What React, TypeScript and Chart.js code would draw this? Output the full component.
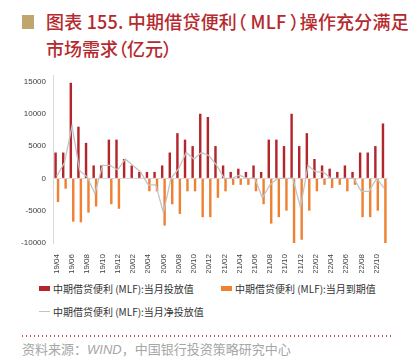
import React, { useEffect, useRef } from "react";
import { Chart, registerables } from "chart.js";
Chart.register(...registerables);

const categories = [
  "19/04", "19/05", "19/06", "19/07", "19/08", "19/09", "19/10", "19/11", "19/12",
  "20/01", "20/02", "20/03", "20/04", "20/05", "20/06", "20/07", "20/08", "20/09", "20/10", "20/11", "20/12",
  "21/01", "21/02", "21/03", "21/04", "21/05", "21/06", "21/07", "21/08", "21/09", "21/10", "21/11", "21/12",
  "22/01", "22/02", "22/03", "22/04", "22/05", "22/06", "22/07", "22/08", "22/09", "22/10", "22/11",
];

const issued = [
  4000, 4000, 14800, 8000, 5500, 2000, 2000, 6000, 6000,
  3000, 2000, 1000, 1000, 1000, 2000, 4000, 7000, 6000, 5000, 10000, 9500,
  5000, 2000, 1000, 1500, 1000, 2000, 1000, 6000, 6000, 5000, 10000, 5000,
  7000, 3000, 2000, 1500, 1000, 2000, 1000, 4000, 4000, 5000, 8500,
];

const expired = [
  -3650, -1600, -6700, -6800, -5300, -4350, 0, -4000, -4700,
  0, 0, 0, -2000, -2000, -7300, -4000, -5500, -2000, -2000, -6000, -6000,
  -3000, -2000, -1000, -1000, -1000, -2000, -4000, -7000, -6000, -5000, -10000, -9500,
  -5000, -2000, -1000, -1500, -1000, -2000, -1000, -6000, -6000, -5000, -10000,
];

const net = [
  350, 2400, 8100, 1200, 200, -2350, 2000, 2000, 1300,
  3000, 2000, 1000, -1000, -1000, -5300, 0, 1500, 4000, 3000, 4000, 3500,
  2000, 0, 0, 500, 0, 0, -3000, -1000, 0, 0, 0, -4500,
  2000, 1000, 1000, 0, 0, 0, 0, -2000, -2000, 0, -1500,
];

const yTicks = [-10000, -5000, 0, 5000, 10000, 15000];

const seriesNames = [
  "中期借贷便利 (MLF):当月投放值",
  "中期借贷便利 (MLF):当月到期值",
  "中期借贷便利 (MLF):当月净投放值",
];

const RED = "#B3262B";
const ORANGE = "#EE8133";
const GRAY = "#C3C3C3";
const TEXT = "#404040";
const CJK = '"Noto Sans CJK SC", "Noto Sans", sans-serif';
const LATIN = '"Liberation Sans", Arial, sans-serif';

export default function App() {
  const ref = useRef<HTMLCanvasElement>(null);

  useEffect(() => {
    const chart = new Chart(ref.current as HTMLCanvasElement, {
      type: "bar",
      data: {
        labels: categories,
        datasets: [
          {
            type: "line",
            label: seriesNames[2],
            data: net,
            borderColor: GRAY,
            borderWidth: 1.3,
            pointRadius: 0,
            tension: 0,
            order: 0,
          } as any,
          {
            type: "bar",
            label: seriesNames[0],
            data: issued,
            backgroundColor: RED,
            categoryPercentage: 0.64,
            barPercentage: 1,
            order: 1,
          },
          {
            type: "bar",
            label: seriesNames[1],
            data: expired,
            backgroundColor: ORANGE,
            categoryPercentage: 0.64,
            barPercentage: 1,
            order: 1,
          },
        ],
      },
      options: {
        responsive: false,
        animation: false,
        layout: { padding: { top: 15, right: 22, left: 0, bottom: 0 } },
        plugins: { legend: { display: false }, tooltip: { enabled: false } },
        scales: {
          x: {
            grid: { display: false },
            border: { display: false },
            ticks: {
              autoSkip: false,
              maxRotation: 90,
              minRotation: 90,
              padding: 3,
              color: TEXT,
              font: { size: 8, family: LATIN },
              callback: (_v: any, i: number) => (i % 2 === 0 ? categories[i] : ""),
            },
            afterFit: (s: any) => {
              s.height = 30;
              s.paddingLeft = 0;
              s.paddingRight = 0;
            },
          },
          y: {
            min: -10000,
            max: 16000,
            afterBuildTicks: (s: any) => {
              s.ticks = yTicks.map((v) => ({ value: v }));
            },
            grid: {
              drawTicks: false,
              color: (ctx: any) =>
                ctx.tick && ctx.tick.value === 0 ? "#D9D9D9" : "rgba(0,0,0,0)",
            },
            border: { color: "#D9D9D9" },
            ticks: {
              padding: 7,
              color: TEXT,
              font: { size: 8, family: LATIN },
              callback: (v: any) => String(v),
            },
            afterFit: (s: any) => {
              s.width = 53;
              s.paddingTop = 0;
              s.paddingBottom = 0;
            },
          },
        },
      } as any,
    });
    return () => chart.destroy();
  }, []);

  const legendText: React.CSSProperties = {
    position: "absolute",
    fontSize: 10,
    lineHeight: "13px",
    color: "#333",
    whiteSpace: "nowrap",
  };

  const titleStyle: React.CSSProperties = {
    position: "absolute",
    left: 46,
    fontSize: 18,
    lineHeight: "27px",
    fontWeight: 500,
    color: "#B52A2E",
    whiteSpace: "nowrap",
    fontFeatureSettings: '"palt"',
  };

  return (
    <div
      style={{
        position: "absolute",
        left: 0,
        top: 0,
        width: 410,
        height: 357,
        background: "#fff",
        fontFamily: CJK,
        overflow: "hidden",
      }}
    >
      <div
        style={{
          position: "absolute",
          left: 22,
          top: 15,
          width: 12,
          height: 14,
          background: "#BFA66F",
        }}
      />
      <div style={{ ...titleStyle, top: 8, letterSpacing: 0.2 }}>
        图表 155. 中期借贷便利（ MLF ）操作充分满足
      </div>
      <div style={{ ...titleStyle, top: 35 }}>市场需求（亿元）</div>

      <canvas
        ref={ref}
        width={410}
        height={213}
        style={{ position: "absolute", left: 0, top: 60, width: 410, height: 213 }}
      />

      <div style={{ position: "absolute", left: 39, top: 286, width: 11, height: 5, background: RED }} />
      <div style={{ ...legendText, left: 53, top: 282 }}>{seriesNames[0]}</div>
      <div style={{ position: "absolute", left: 221, top: 286, width: 11, height: 5, background: ORANGE }} />
      <div style={{ ...legendText, left: 235, top: 282 }}>{seriesNames[1]}</div>
      <div style={{ position: "absolute", left: 39, top: 310.5, width: 11, height: 1.5, background: GRAY }} />
      <div style={{ ...legendText, left: 53, top: 305 }}>{seriesNames[2]}</div>

      <div
        style={{
          position: "absolute",
          left: 22,
          top: 335,
          width: 372,
          height: 1.5,
          background: "repeating-linear-gradient(to right, #C9504F 0 1.5px, transparent 1.5px 4px)",
        }}
      />
      <div
        style={{
          position: "absolute",
          left: 22,
          top: 341,
          fontSize: 13,
          lineHeight: "16px",
          color: "#A6A6A6",
          whiteSpace: "nowrap",
        }}
      >
        资料来源：<span style={{ fontStyle: "italic", fontFamily: LATIN }}>WIND</span>，中国银行投资策略研究中心
      </div>
    </div>
  );
}
